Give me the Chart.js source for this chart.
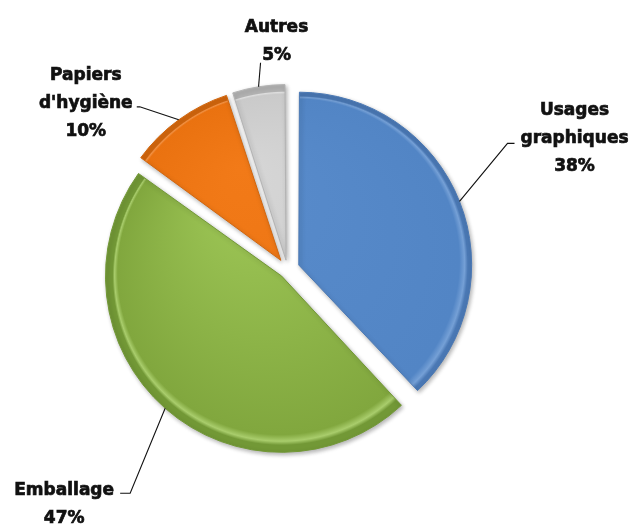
<!DOCTYPE html>
<html>
<head>
<meta charset="utf-8">
<script src="https://cdn.jsdelivr.net/npm/chart.js@4.4.1/dist/chart.umd.min.js"></script>
<style>
  body { margin: 0; background: #fff; }
  #wrap { width: 637px; height: 526px; }
</style>
</head>
<body>
<div id="wrap"><canvas id="graficaPapier" width="637" height="526"></canvas></div>
<script>
// données
const categories = ['Usages graphiques', 'Emballage', "Papiers d'hygiène", 'Autres'];
const labelLines = [['Usages', 'graphiques'], ['Emballage'], ['Papiers', "d'hygiène"], ['Autres']];
const shares = [38, 47, 10, 5];

// couleurs : haut, bas, reflet du biseau, bord
const topColors   = ['#588BCB', '#A0C958', '#F27A18', '#D6D6D6'];
const baseColors  = ['#5285C5', '#81A73E', '#EA7210', '#CACACA'];
const lightColors = ['#75A0D6', '#A9CD6C', '#F59446', '#DEDEDE'];
const darkColors  = ['#4A78B4', '#729836', '#D2660D', '#B3B3B3'];

const RADIUS = 169;
const EXPLODE = 16; // distance visible entre les parts

// placement des étiquettes par rapport au point milieu de l'arc
const labelLayout = [
    { tx: 115, ty: -86, line: [[48, -58], [55, -58]] },
    { tx: -101, ty: 87, line: [[-35, 85], [-45, 85]] },
    { tx: -93, ty: -40, line: [[-39, -13], [-42, -13]] },
    { tx: 18, ty: -55, line: [[2, -24]] }
];

const total = shares.reduce((a, b) => a + b, 0);

function arcFix(i) {
    const circ = Math.PI * 2 * shares[i] / total;
    return 1 - Math.sin(Math.min(Math.PI, circ));
}

// Chart.js déplace l'arc de offset/4*(1+fix) : on compense pour un écart égal
function explodeOffset(i) {
    return 4 * EXPLODE / (1 + arcFix(i));
}

function sliceFill(context) {
    const i = context.dataIndex;
    const area = context.chart.chartArea;
    if (context.type !== 'data' || !area) return baseColors[i] || baseColors[0];
    const cx = (area.left + area.right) / 2;
    const cy = (area.top + area.bottom) / 2;
    // foyer décalé vers le haut : plus clair en haut, plus foncé en bas
    const g = context.chart.ctx.createRadialGradient(cx - 0.25 * RADIUS, cy - 0.55 * RADIUS, 0, cx, cy, RADIUS);
    g.addColorStop(0, topColors[i]);
    g.addColorStop(0.96, baseColors[i]);
    g.addColorStop(0.985, lightColors[i]);
    g.addColorStop(1, darkColors[i]);
    return g;
}

const etiquettesPlugin = {
    id: 'etiquettes',
    beforeDatasetsDraw(chart) {
        const ctx = chart.ctx;
        ctx.save();
        ctx.shadowColor = 'rgba(0,0,0,0.3)';
        ctx.shadowBlur = 4;
        ctx.shadowOffsetX = 1.5;
        ctx.shadowOffsetY = 2;
    },
    afterDatasetsDraw(chart) {
        const ctx = chart.ctx;
        ctx.restore();
        const arcs = chart.getDatasetMeta(0).data;
        ctx.save();
        arcs.forEach((arc, i) => {
            const p = arc.getProps(['x', 'y', 'startAngle', 'endAngle', 'outerRadius'], true);
            const mid = (p.startAngle + p.endAngle) / 2;
            const t = explodeOffset(i) / 4 * (1 + arcFix(i));
            const px = p.x + Math.cos(mid) * (t + p.outerRadius);
            const py = p.y + Math.sin(mid) * (t + p.outerRadius);
            const lay = labelLayout[i];

            // ligne de rappel
            ctx.strokeStyle = '#111';
            ctx.lineWidth = 1.1;
            ctx.beginPath();
            ctx.moveTo(px, py);
            lay.line.forEach(pt => ctx.lineTo(px + pt[0], py + pt[1]));
            ctx.stroke();

            // texte
            ctx.fillStyle = '#111';
            ctx.strokeStyle = '#111';
            ctx.lineWidth = 0.7;
            ctx.font = 'bold 17px "DejaVu Sans"';
            ctx.textAlign = 'center';
            ctx.textBaseline = 'alphabetic';
            const lines = labelLines[i].concat([Math.round(shares[i] / total * 100) + '%']);
            lines.forEach((txt, k) => {
                const x = px + lay.tx, y = py + lay.ty + k * 28;
                ctx.fillText(txt, x, y);
                ctx.strokeText(txt, x, y);
            });
        });
        ctx.restore();
    }
};

const chartPapier = new Chart(document.getElementById('graficaPapier').getContext('2d'), {
    type: 'pie',
    data: {
        labels: categories,
        datasets: [{
            data: shares,
            backgroundColor: sliceFill,
            borderColor: darkColors,
            borderWidth: 1,
            offset: ctx => explodeOffset(ctx.dataIndex),
            hoverOffset: 0,
            radius: RADIUS
        }]
    },
    options: {
        responsive: false,
        animation: false,
        layout: { padding: { left: 0, right: 62, top: 13, bottom: 0 } },
        plugins: {
            legend: { display: false },
            tooltip: { enabled: false }
        }
    },
    plugins: [etiquettesPlugin]
});
</script>
</body>
</html>
